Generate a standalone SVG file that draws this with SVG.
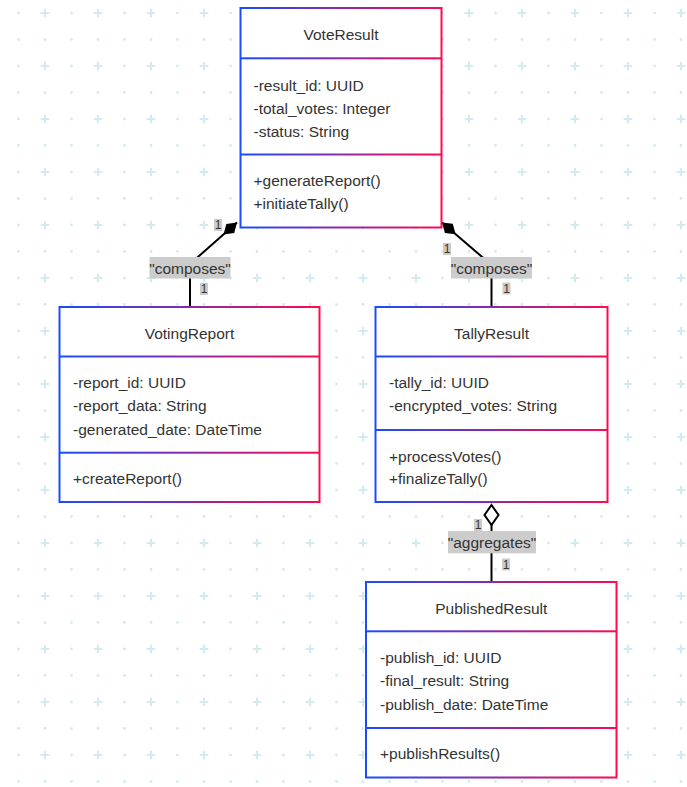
<svg xmlns="http://www.w3.org/2000/svg" width="687" height="787" viewBox="0 0 687 787">
<defs>
  <pattern id="grid" x="0" y="0" width="53" height="53" patternUnits="userSpaceOnUse">
    <g fill="#d3ebef" stroke="#d3ebef">
      <circle cx="18.5" cy="13" r="1.4" stroke="none"/>
      <circle cx="18.5" cy="39.5" r="1.4" stroke="none"/>
      <circle cx="45" cy="39.5" r="1.4" stroke="none"/>
      <path d="M40.7 13 H49.3 M45 8.7 V17.3" stroke-width="2" fill="none"/>
    </g>
  </pattern>
  <linearGradient id="grad" x1="0" y1="0" x2="1" y2="0">
    <stop offset="0" stop-color="#1a4cff"/>
    <stop offset="0.5" stop-color="#8a2aa8"/>
    <stop offset="1" stop-color="#ff0a50"/>
  </linearGradient>
  <marker id="composition" markerUnits="userSpaceOnUse" markerWidth="20" markerHeight="14" viewBox="0 0 20 14" refX="19" refY="7" orient="auto">
    <path d="M19,7 L10,13 L1,7 L10,1 Z" fill="#000"/>
  </marker>
  <marker id="aggregation" markerUnits="userSpaceOnUse" markerWidth="24" markerHeight="18" viewBox="0 0 24 18" refX="21" refY="9" orient="auto">
    <path d="M21,9 L11,16 L1,9 L11,2 Z" fill="#fff" stroke="#000" stroke-width="2"/>
  </marker>
</defs>
<style>
  .box { fill: #fff; stroke: url(#grad); stroke-width: 2; }
  .sep { fill: url(#grad); }
  text { font-family: "Liberation Sans", Arial, sans-serif; fill: #333; }
  .title { font-size: 15.5px; text-anchor: middle; }
  .member { font-size: 15.5px; }
  .edge { fill: none; stroke: #000; stroke-width: 2; }
  .lbl { fill: #cccccc; }
  .lbltext { font-size: 15.5px; text-anchor: middle; }
  .card { fill: #cfcbc2; }
  .cardtext { font-size: 12px; text-anchor: middle; }
</style>
<rect x="0" y="0" width="687" height="787" fill="#fff"/>
<rect x="0" y="0" width="687" height="787" fill="url(#grid)"/>

<g id="connectors">
  <path class="edge" d="M190 307 L190 264 L237 222.5" marker-end="url(#composition)"/>
  <path class="edge" d="M491.5 307 L491.5 265 L442 222.5" marker-end="url(#composition)"/>
  <path class="edge" d="M491.5 582 L491.5 505" marker-end="url(#aggregation)"/>
  <g id="cardinalities">
    <rect class="card" x="214" y="219" width="8" height="12"/>
    <text class="cardtext" x="218" y="229.3">1</text>
    <rect class="card" x="200" y="283" width="8" height="12"/>
    <text class="cardtext" x="204" y="293.3">1</text>
    <rect class="card" x="443" y="243" width="8" height="12"/>
    <text class="cardtext" x="447" y="253.3">1</text>
    <rect class="card" x="502.5" y="282.5" width="8" height="12"/>
    <text class="cardtext" x="506.5" y="292.8">1</text>
    <rect class="card" x="474" y="519" width="8" height="12"/>
    <text class="cardtext" x="478" y="529.3">1</text>
    <rect class="card" x="502" y="558.5" width="8" height="12"/>
    <text class="cardtext" x="506" y="568.8">1</text>
  </g>
  <g id="edge-labels">
    <rect class="lbl" x="149.5" y="257" width="81" height="21.5"/>
    <text class="lbltext" x="190" y="273.5">"composes"</text>
    <rect class="lbl" x="451" y="257" width="81" height="21.5"/>
    <text class="lbltext" x="491.5" y="273.5">"composes"</text>
    <rect class="lbl" x="448" y="531" width="88" height="22.3"/>
    <text class="lbltext" x="492" y="547.5">"aggregates"</text>
  </g>
</g>

<g id="VoteResult">
  <rect class="box" x="240.5" y="8" width="201" height="219.5"/>
  <rect class="sep" x="240.5" y="57.3" width="201" height="2"/>
  <rect class="sep" x="240.5" y="153.5" width="201" height="2"/>
  <text class="title" x="341" y="40">VoteResult</text>
  <text class="member" x="253.5" y="90.5">-result_id: UUID</text>
  <text class="member" x="253.5" y="113.5">-total_votes: Integer</text>
  <text class="member" x="253.5" y="136.5">-status: String</text>
  <text class="member" x="253.5" y="186">+generateReport()</text>
  <text class="member" x="253.5" y="209">+initiateTally()</text>
</g>

<g id="VotingReport">
  <rect class="box" x="59.5" y="307" width="260" height="195"/>
  <rect class="sep" x="59.5" y="355.5" width="260" height="2"/>
  <rect class="sep" x="59.5" y="451.7" width="260" height="2"/>
  <text class="title" x="189.5" y="339">VotingReport</text>
  <text class="member" x="73" y="388">-report_id: UUID</text>
  <text class="member" x="73" y="411">-report_data: String</text>
  <text class="member" x="73" y="434.5">-generated_date: DateTime</text>
  <text class="member" x="73" y="484">+createReport()</text>
</g>

<g id="TallyResult">
  <rect class="box" x="375.5" y="307" width="232" height="195"/>
  <rect class="sep" x="375.5" y="355.5" width="232" height="2"/>
  <rect class="sep" x="375.5" y="429" width="232" height="2"/>
  <text class="title" x="491.5" y="339">TallyResult</text>
  <text class="member" x="389" y="388">-tally_id: UUID</text>
  <text class="member" x="389" y="411">-encrypted_votes: String</text>
  <text class="member" x="389" y="461.5">+processVotes()</text>
  <text class="member" x="389" y="484">+finalizeTally()</text>
</g>

<g id="PublishedResult">
  <rect class="box" x="366" y="582" width="250.5" height="195.5"/>
  <rect class="sep" x="366" y="630.3" width="250.5" height="2"/>
  <rect class="sep" x="366" y="727" width="250.5" height="2"/>
  <text class="title" x="491.3" y="614">PublishedResult</text>
  <text class="member" x="380" y="663">-publish_id: UUID</text>
  <text class="member" x="380" y="686">-final_result: String</text>
  <text class="member" x="380" y="709.5">-publish_date: DateTime</text>
  <text class="member" x="380" y="759">+publishResults()</text>
</g>
</svg>
